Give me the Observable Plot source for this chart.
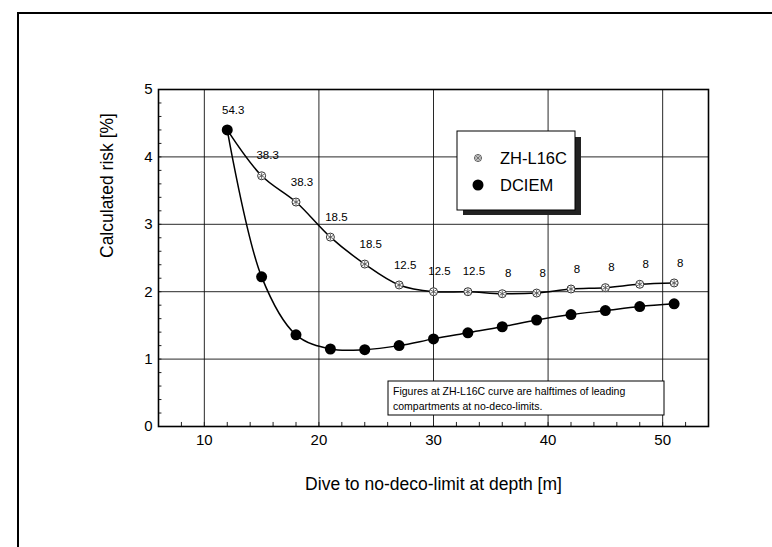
<!DOCTYPE html>
<html>
<head>
<meta charset="utf-8">
<script src="https://cdn.jsdelivr.net/npm/d3@7"></script>
<script src="https://cdn.jsdelivr.net/npm/@observablehq/plot@0.6"></script>
<style>
  html, body { margin: 0; padding: 0; background: white; }
  svg { display: block; }
</style>
</head>
<body>
<div id="chart"></div>
<script>
// Data
const depths = [12, 15, 18, 21, 24, 27, 30, 33, 36, 39, 42, 45, 48, 51];
const zhRisk = [4.40, 3.72, 3.33, 2.81, 2.41, 2.10, 2.00, 2.00, 1.97, 1.98, 2.04, 2.06, 2.11, 2.13];
const dciemRisk = [4.40, 2.22, 1.36, 1.15, 1.14, 1.20, 1.30, 1.39, 1.48, 1.58, 1.66, 1.72, 1.78, 1.82];
const halftimes = ["54.3", "38.3", "38.3", "18.5", "18.5", "12.5", "12.5", "12.5", "8", "8", "8", "8", "8", "8"];
const xTicks = [10, 20, 30, 40, 50];
const yTicks = [0, 1, 2, 3, 4, 5];
const xGrid = [10, 20, 30, 40, 50];
const yGrid = [1, 2, 3, 4];
const xMinor = d3.range(8, 54, 2);
const yMinor = d3.range(0.2, 5, 0.2);
const seriesNames = ["ZH-L16C", "DCIEM"];
const xTitle = "Dive to no-deco-limit at depth [m]";
const yTitle = "Calculated risk [%]";
const noteLines = ["Figures at ZH-L16C curve are halftimes of leading", "compartments at no-deco-limits."];

const zh = depths.map((d, i) => ({depth: d, risk: zhRisk[i], label: halftimes[i]}));
const dciem = depths.map((d, i) => ({depth: d, risk: dciemRisk[i]}));

const font = "'Liberation Sans', Arial, Helvetica, sans-serif";

const chart = Plot.plot({
  width: 772,
  height: 547,
  marginLeft: 158,
  marginRight: 64,
  marginTop: 89,
  marginBottom: 121,
  style: {fontFamily: font, background: "white", color: "black"},
  x: {domain: [6, 54]},
  y: {domain: [0, 5]},
  marks: [
    Plot.gridX(xGrid, {stroke: "#111", strokeOpacity: 0.9, strokeWidth: 1}),
    Plot.gridY(yGrid, {stroke: "#111", strokeOpacity: 0.9, strokeWidth: 1}),
    Plot.ruleX(xMinor, {x: d => d, y1: 0, y2: 0.06, stroke: "#222"}),
    Plot.ruleY(yMinor, {y: d => d, x1: 6, x2: 6.3, stroke: "#222"}),
    Plot.axisX(xTicks, {tickSize: 0, tickPadding: 8, fontSize: 15, label: null, tickFormat: "d"}),
    Plot.axisY(yTicks, {tickSize: 0, tickPadding: 6, fontSize: 15, label: null, tickFormat: "d"}),
    Plot.frame({stroke: "black", strokeWidth: 1.6}),
    Plot.line(dciem, {x: "depth", y: "risk", curve: "catmull-rom", stroke: "black", strokeWidth: 1.5}),
    Plot.line(zh, {x: "depth", y: "risk", curve: "catmull-rom", stroke: "black", strokeWidth: 1.5}),
    Plot.dot(dciem, {x: "depth", y: "risk", r: 5.5, fill: "black", stroke: "none"}),
    Plot.dot(zh.slice(1), {x: "depth", y: "risk", r: 4, fill: "white", stroke: "#333", strokeWidth: 1}),
    Plot.dot(zh.slice(1), {x: "depth", y: "risk", r: 3, symbol: "asterisk", stroke: "#555", strokeWidth: 0.9}),
    Plot.text(zh, {x: "depth", y: "risk", text: "label", dx: 6, dy: -20, fontSize: 11.5, fill: "black"}),
    Plot.text([xTitle], {frameAnchor: "bottom", dy: 63, fontSize: 17.5, fill: "black"}),
    Plot.text([yTitle], {frameAnchor: "left", dx: -51, rotate: -90, fontSize: 17.5, fill: "black"})
  ]
});

const svg = d3.select(chart);

// outer page frame
svg.append("path")
  .attr("d", "M18,547V13H772")
  .attr("fill", "none").attr("stroke", "black").attr("stroke-width", 2);

// legend box with shadow
const lg = svg.append("g").attr("font-family", font).attr("text-anchor", "start");
lg.append("rect").attr("x", 463).attr("y", 137).attr("width", 118).attr("height", 78).attr("fill", "#222");
lg.append("rect").attr("x", 457).attr("y", 131).attr("width", 118).attr("height", 79)
  .attr("fill", "white").attr("stroke", "black").attr("stroke-width", 1);
// ZH-L16C symbol
lg.append("circle").attr("cx", 478).attr("cy", 158).attr("r", 3.5).attr("fill", "white").attr("stroke", "#555");
lg.append("path").attr("d", "M474,158h8M478,154v8M475,155l6,6M481,155l-6,6").attr("stroke", "#666").attr("stroke-width", 0.8);
lg.append("text").attr("x", 500).attr("y", 158).attr("dy", "0.36em").attr("font-size", 16.5).attr("text-anchor", "start").text(seriesNames[0]);
lg.append("circle").attr("cx", 478).attr("cy", 185).attr("r", 5.5).attr("fill", "black");
lg.append("text").attr("x", 500).attr("y", 185).attr("dy", "0.36em").attr("font-size", 16.5).attr("text-anchor", "start").text(seriesNames[1]);

// note box
const nb = svg.append("g").attr("font-family", font).attr("text-anchor", "start");
nb.append("rect").attr("x", 388).attr("y", 381).attr("width", 276).attr("height", 34)
  .attr("fill", "white").attr("stroke", "black").attr("stroke-width", 1);
noteLines.forEach((t, i) => {
  nb.append("text").attr("x", 393).attr("y", 391 + i * 15).attr("dy", "0.36em")
    .attr("font-size", 10.5).attr("text-anchor", "start").text(t);
});

document.getElementById("chart").appendChild(chart);
</script>
</body>
</html>
